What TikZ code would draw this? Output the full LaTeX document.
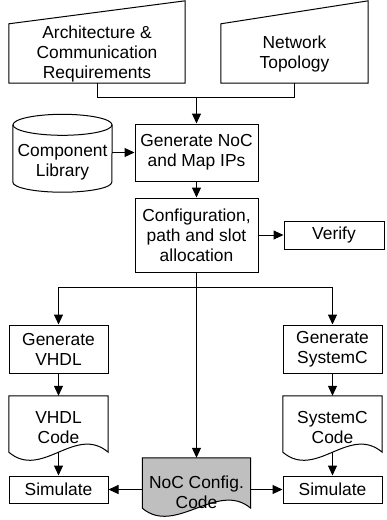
\documentclass[tikz,border=0pt]{standalone}
\usepackage{fontspec}
\setmainfont{Liberation Sans}
\usetikzlibrary{positioning}
\usetikzlibrary{arrows.meta,backgrounds,calc}
\tikzset{
    %Define standard arrow tip
    >={Triangle[length=10pt,width=9pt]},
    % Define arrow style
    pil/.style={
           ->,
           line width=1pt},
    wire/.style={line width=1pt}
}
\newcommand{\boxfont}{\fontsize{17.4}{20}\selectfont}
% wavy document outline: node, lift of side ends, fill
\newcommand{\docoutline}[3]{%
  \begin{scope}[on background layer]
  \draw[wire, fill=#3] (#1.north west) -- (#1.north east) -- ([yshift=#2]#1.south east)
     .. controls +(-33,-28) and +(33,28) .. ([yshift=#2]#1.south west) -- cycle;
  \end{scope}}

\begin{document}
\begin{tikzpicture}[x=1pt, y=-1pt, font=\boxfont]
\tikzstyle{lbl}=[rectangle, align=center, inner sep=0pt]
\tikzstyle{proc}=[lbl, draw, line width=1pt]
\useasboundingbox (0,0) rectangle (386,520);

% inputs
\node[lbl, minimum width=176pt, minimum height=59pt] (archreq) at (97,53.5) {Architecture \&\\Communication\\Requirements};
\draw[wire] (archreq.south west) -- (archreq.south east) -- ([yshift=23pt]archreq.north east) -- (archreq.north west) -- cycle;
\node[lbl, minimum width=147pt, minimum height=59pt] (nettopo) at (294.5,53.5) {Network\\Topology};
\draw[wire] (nettopo.south west) -- (nettopo.south east) -- ([yshift=23pt]nettopo.north east) -- (nettopo.north west) -- cycle;

\node[lbl, minimum width=99pt, minimum height=56pt] (complib) at (62.5,162) {Component\\Library};
\draw[wire] ([yshift=9pt]complib.north) ellipse [x radius=49.5pt, y radius=10.5pt];
\draw[wire] ([yshift=9pt]complib.north west) -- ([yshift=8pt]complib.south west) arc [start angle=180, end angle=360, x radius=49.5pt, y radius=10pt] -- ([yshift=9pt]complib.north east);

% flow
\node[proc, minimum width=123pt, minimum height=57pt] (gennoc) at (196.5,152.5) {Generate NoC\\and Map IPs};
\node[proc, minimum width=123pt, minimum height=74pt, below=16pt of gennoc] (config) {Configuration,\\path and slot\\allocation};
\node[proc, minimum width=100pt, minimum height=28pt, right=25pt of config] (verify) {Verify};

\node[proc, minimum width=99pt, minimum height=48pt] (genvhdl) at (58.5,349) {Generate\\VHDL};
\node[proc, minimum width=99pt, minimum height=48pt] (gensysc) at (332.5,349) {Generate\\SystemC};

\node[lbl, minimum width=99pt, minimum height=64pt] (vcode) at (58.5,428) {VHDL\\Code};
\docoutline{vcode}{8pt}{white}
\node[lbl, minimum width=99pt, minimum height=64pt] (scode) at (332.5,428) {SystemC\\Code};
\docoutline{scode}{8pt}{white}
\node[lbl, minimum width=108pt, minimum height=69pt] (nocconf) at (196.5,492.5) {NoC Config.\\Code};
\docoutline{nocconf}{19pt}{gray!50}

\node[proc, minimum width=99pt, minimum height=27pt] (simv) at (58.5,489.5) {Simulate};
\node[proc, minimum width=99pt, minimum height=27pt] (sims) at (332.5,489.5) {Simulate};

% connectors
\coordinate (merge) at (196.5,97);
\draw[wire] (archreq.south) |- (merge);
\draw[wire] (nettopo.south) |- (merge);
\draw[pil] (merge) -- (gennoc.north);
\draw[pil] (complib.east |- gennoc.west) -- (gennoc.west);
\draw[pil] (gennoc) -- (config);
\draw[pil] (config) -- (verify);

\coordinate (split) at (196.5,287);
\draw[pil] (config.south) -- (nocconf.north);
\draw[pil] (split) -| (genvhdl.north);
\draw[pil] (split) -| (gensysc.north);
\draw[pil] (genvhdl) -- (vcode.north);
\draw[pil] (gensysc) -- (scode.north);
\draw[pil] ([yshift=8pt]vcode.south) -- (simv);
\draw[pil] ([yshift=8pt]scode.south) -- (sims);
\draw[pil] (nocconf.west |- simv.east) -- (simv.east);
\draw[pil] (nocconf.east |- sims.west) -- (sims.west);

\end{tikzpicture}
\end{document}
